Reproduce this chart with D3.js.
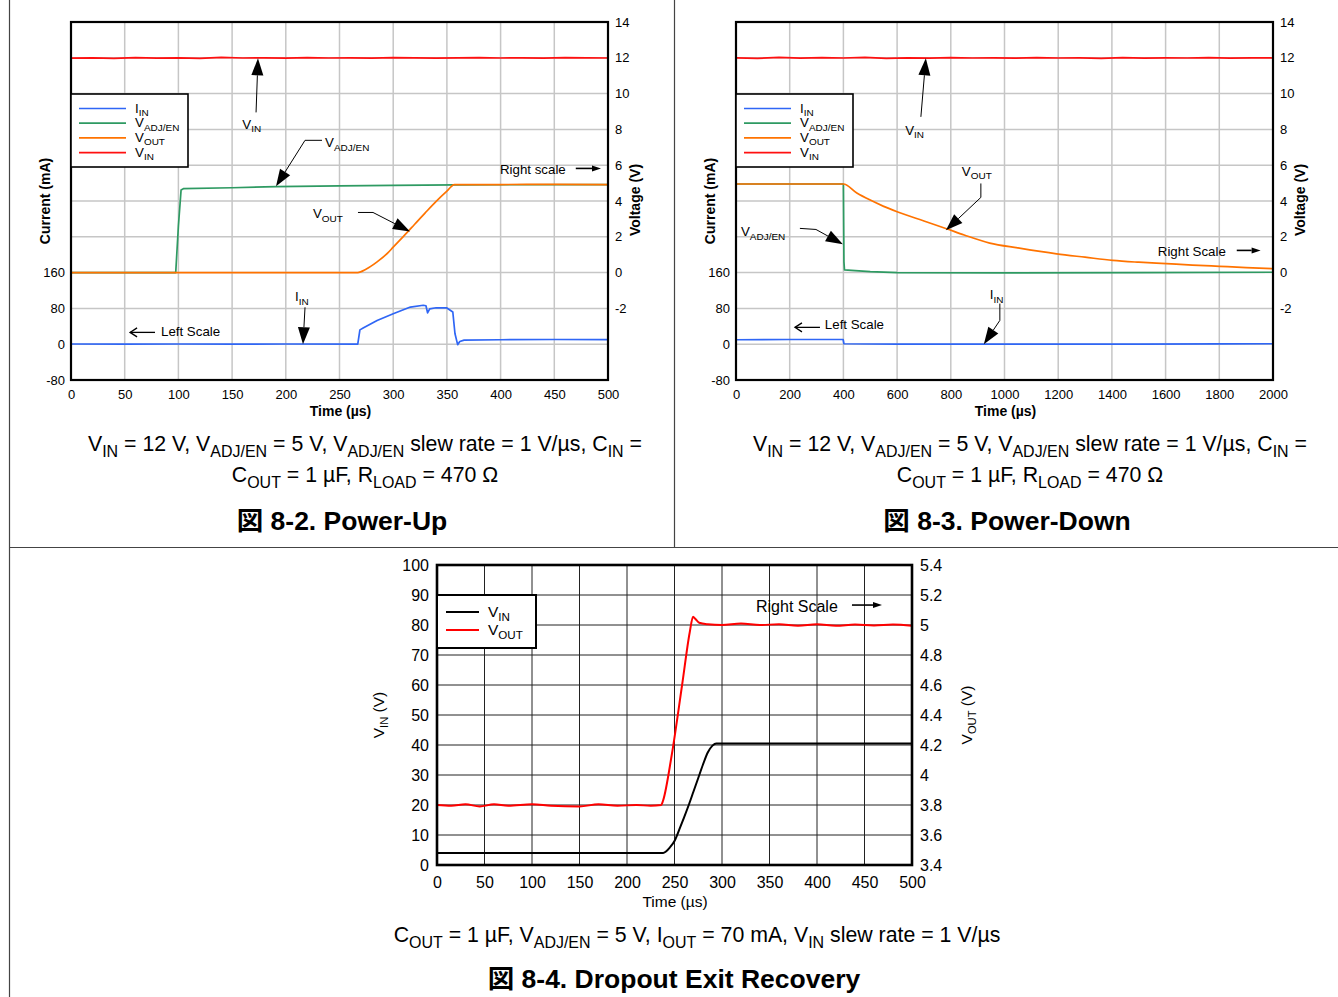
<!DOCTYPE html>
<html><head><meta charset="utf-8">
<script src="https://cdn.jsdelivr.net/npm/d3@7"></script>
<style>
body{margin:0;background:#fff}
svg{display:block}
text{font-family:"Liberation Sans",Arial,"Noto Sans CJK JP",sans-serif}
</style>
</head><body>
<svg id="c" width="1338" height="997"></svg>
<script>
// ---------------- DATA ----------------
// Fig 8-2 Power-Up : time (us), values
const puVin  = [[0,11.98],[20,12.0],[40,11.97],[60,12.01],[80,11.98],[100,12.0],[120,11.97],[140,12.02],[160,11.99],[180,12.0],[200,11.98],[220,12.01],[240,11.99],[260,12.0],[280,11.98],[300,12.01],[320,12.0],[340,11.98],[360,12.0],[380,12.01],[400,11.99],[420,12.0],[440,11.98],[460,12.01],[480,12.0],[500,11.99]];
const puVadj = [[0,0],[97.5,0],[100,2.6],[102.5,4.62],[104.6,4.69],[150,4.74],[191,4.8],[250,4.84],[300,4.87],[358,4.9],[500,4.92]];
const puVout = [[0,0],[267,0],[275,0.2],[285,0.6],[295,1.1],[300,1.42],[310,2.05],[320,2.7],[330,3.35],[340,3.98],[350,4.55],[357,4.92],[400,4.92],[450,4.93],[500,4.92]];
const puIin  = [[0,0.5],[50,0],[100,0.5],[150,0],[200,0.5],[267,0],[269,32],[272,36],[285,53],[300,68],[316,83],[328,87],[330.5,86],[332,70],[334,79],[340,81.5],[350,81],[355.5,72],[357.5,24],[360,-1],[362,6],[366,9],[400,10],[450,10.5],[500,10.4]];

// Fig 8-3 Power-Down
const pdVin  = [[0,12.0],[80,11.97],[160,12.02],[240,11.98],[320,12.01],[400,11.99],[480,12.02],[560,11.97],[640,12.0],[720,11.98],[800,12.01],[880,11.99],[960,12.0],[1040,11.98],[1120,12.01],[1200,11.99],[1280,12.0],[1360,11.97],[1440,12.01],[1520,11.98],[1600,12.0],[1680,11.99],[1760,12.01],[1840,11.98],[1920,12.0],[2000,11.99]];
const pdVadj = [[0,4.95],[398,4.95],[400,4.9],[402,0.6],[404,0.15],[430,0.12],[500,0.05],[600,0.0],[1000,-0.02],[1500,0.0],[2000,0.02]];
const pdVout = [[0,4.95],[400,4.95],[450,4.45],[500,4.05],[550,3.7],[600,3.4],[700,2.88],[784,2.45],[850,2.1],[945,1.65],[1050,1.38],[1194,1.05],[1300,0.86],[1403,0.68],[1500,0.58],[1603,0.5],[1700,0.42],[1801,0.35],[1900,0.28],[2000,0.22]];
const pdIin  = [[0,10],[200,10.5],[399,10.5],[402,1],[600,0],[1000,0],[1500,0.3],[1800,0.8],[2000,1]];

// Fig 8-4 Dropout Exit Recovery
const deVin  = [[0,4],[238,4],[241,4.5],[245,5.8],[250,8],[255,11.8],[260,15.8],[265,20],[270,24.5],[275,29],[280,33.5],[285,37.5],[290,39.8],[294,40.5],[500,40.5]];
const deVout = [[0,3.8],[15,3.795],[30,3.805],[45,3.79],[60,3.805],[75,3.795],[100,3.805],[120,3.795],[150,3.79],[170,3.805],[190,3.795],[210,3.8],[225,3.795],[236,3.8],[238,3.83],[247,4.13],[258,4.6],[266,4.95],[269.5,5.055],[272,5.04],[276,5.015],[285,5.005],[300,5.0],[320,5.01],[340,5.0],[360,5.005],[380,4.995],[400,5.005],[420,4.995],[440,5.003],[460,4.997],[480,5.003],[500,4.995]];

// tick labels
const puXTicks = [0,50,100,150,200,250,300,350,400,450,500];
const pdXTicks = [0,200,400,600,800,1000,1200,1400,1600,1800,2000];
const curTicks = [-80,0,80,160];
const voltTicks = [-2,0,2,4,6,8,10,12,14];
const deXTicks = [0,50,100,150,200,250,300,350,400,450,500];
const deLTicks = [0,10,20,30,40,50,60,70,80,90,100];
const deRTicks = [3.4,3.6,3.8,4,4.2,4.4,4.6,4.8,5,5.2,5.4];

const C = {blue:"#2f66f5", green:"#2e9a62", orange:"#ff7300", red:"#ff1010"};
const plain = d => String(+(+d).toFixed(2));

// ---------------- HELPERS ----------------
const svg = d3.select("#c");
svg.append("rect").attr("width",1338).attr("height",997).attr("fill","#fff");

function rich(g, x, y, str, o) {
  const size = o.size;
  const t = g.append("text").attr("x", x).attr("y", y)
    .attr("font-size", size).attr("text-anchor", o.anchor || "start")
    .attr("font-weight", o.weight || "normal").attr("fill", o.fill || "#000");
  if (o.transform) t.attr("transform", o.transform);
  const parts = [];
  const re = /_\{([^}]*)\}/g; let last = 0, m;
  while ((m = re.exec(str))) {
    if (m.index > last) parts.push([str.slice(last, m.index), false]);
    parts.push([m[1], true]); last = re.lastIndex;
  }
  if (last < str.length) parts.push([str.slice(last), false]);
  let sub = false; const off = size * (o.subOff || 0.28);
  parts.forEach(([s, isSub]) => {
    const ts = t.append("tspan").text(s);
    if (isSub && !sub) ts.attr("dy", off);
    if (!isSub && sub) ts.attr("dy", -off);
    if (isSub) ts.attr("font-size", size * (o.subScale || 0.72));
    sub = isSub;
  });
  return t;
}

function filledArrow(g, pts, len, w) {
  len = len || 17; w = w || 12;
  const n = pts.length, [tx, ty] = pts[n-1], [px, py] = pts[n-2];
  const dx = tx-px, dy = ty-py, L = Math.hypot(dx, dy), ux = dx/L, uy = dy/L;
  const bx = tx-ux*len, by = ty-uy*len;
  const line = pts.slice(0, n-1).concat([[bx, by]]);
  g.append("path").attr("d", d3.line()(line)).attr("fill","none").attr("stroke","#000").attr("stroke-width",1);
  g.append("path").attr("d", d3.line()([[tx,ty],[bx-uy*w/2, by+ux*w/2],[bx+uy*w/2, by-ux*w/2]]) + "Z").attr("fill","#000");
}
function openArrow(g, a, b, sw) {
  const dx = b[0]-a[0], dy = b[1]-a[1], L = Math.hypot(dx,dy), ux = dx/L, uy = dy/L;
  const h = 7, s = 4.5;
  g.append("path").attr("d", d3.line()([a,b])).attr("stroke","#000").attr("stroke-width",sw||1.3).attr("fill","none");
  g.append("path").attr("d", d3.line()([[b[0]-ux*h-uy*s, b[1]-uy*h+ux*s], b, [b[0]-ux*h+uy*s, b[1]-uy*h-ux*s]]))
    .attr("stroke","#000").attr("stroke-width",sw||1.3).attr("fill","none");
}
function slimArrow(g, a, b) {
  const dx = b[0]-a[0], dy = b[1]-a[1], L = Math.hypot(dx,dy), ux = dx/L, uy = dy/L;
  const len = 9, w = 6, bx = b[0]-ux*len, by = b[1]-uy*len;
  g.append("path").attr("d", d3.line()([a,[bx,by]])).attr("stroke","#000").attr("stroke-width",1.6);
  g.append("path").attr("d", d3.line()([b,[bx-uy*w/2,by+ux*w/2],[bx+uy*w/2,by-ux*w/2]])+"Z").attr("fill","#000");
}

function styleAxis(sel, size) {
  sel.select(".domain").remove();
  sel.selectAll("text").attr("font-size", size).attr("fill","#000")
     .attr("font-family",'"Liberation Sans",Arial,sans-serif');
}

// ---------------- FRAME ----------------
const frame = svg.append("g").attr("stroke","#444").attr("stroke-width",1.2);
frame.append("line").attr("x1",9.5).attr("x2",9.5).attr("y1",0).attr("y2",997);
frame.append("line").attr("x1",674.5).attr("x2",674.5).attr("y1",0).attr("y2",547);
frame.append("line").attr("x1",9).attr("x2",1338).attr("y1",547.5).attr("y2",547.5);

// ---------------- SCOPE PANELS (8-2, 8-3) ----------------
function scopePanel(cfg) {
  const g = svg.append("g");
  const L = cfg.left, R = cfg.right, T = 22, B = 380;
  const x = d3.scaleLinear().domain(cfg.xDomain).range([L, R]);
  const yR = d3.scaleLinear().domain([-6, 14]).range([B, T]);
  const yL = d3.scaleLinear().domain([-80, 720]).range([B, T]);
  // grid
  const grid = g.append("g").attr("stroke","#c6c6c6").attr("stroke-width",1.5);
  cfg.xTicks.slice(1,-1).forEach(t => grid.append("line").attr("x1",x(t)).attr("x2",x(t)).attr("y1",T).attr("y2",B));
  d3.range(-4, 13, 2).forEach(v => grid.append("line").attr("x1",L).attr("x2",R).attr("y1",yR(v)).attr("y2",yR(v)));
  // series
  cfg.series.forEach(s => {
    const ys = s.axis === "L" ? yL : yR;
    const line = d3.line().x(d => x(d[0])).y(d => ys(d[1])).curve(s.smooth ? d3.curveMonotoneX : d3.curveLinear);
    g.append("path").attr("d", line(s.data))
      .attr("fill","none").attr("stroke", s.color).attr("stroke-width",1.7).attr("stroke-linejoin","round");
  });
  // border
  g.append("rect").attr("x",L).attr("y",T).attr("width",R-L).attr("height",B-T)
    .attr("fill","none").attr("stroke","#000").attr("stroke-width",2.2);
  // legend
  const lx = L, ly = 94, lw = 117, lh = 73;
  g.append("rect").attr("x",lx).attr("y",ly).attr("width",lw).attr("height",lh)
    .attr("fill","#fff").attr("stroke","#000").attr("stroke-width",1.6);
  cfg.legend.forEach((e, i) => {
    const yy = ly + 14.5 + i * 14.7;
    g.append("line").attr("x1",lx+8).attr("x2",lx+55).attr("y1",yy).attr("y2",yy).attr("stroke",e[1]).attr("stroke-width",1.7);
    rich(g, lx+64, yy+4, e[0], {size:13.3, subScale:0.75, subOff:0.25});
  });
  // axes
  const ax1 = g.append("g").attr("transform",`translate(${L},0)`)
    .call(d3.axisLeft(yL).tickValues(curTicks).tickSize(0).tickPadding(6).tickFormat(plain));
  styleAxis(ax1, 13);
  const ax2 = g.append("g").attr("transform",`translate(${R},0)`)
    .call(d3.axisRight(yR).tickValues(voltTicks).tickSize(0).tickPadding(7).tickFormat(plain));
  styleAxis(ax2, 13);
  const ax3 = g.append("g").attr("transform",`translate(0,${B})`)
    .call(d3.axisBottom(x).tickValues(cfg.xTicks).tickSize(0).tickPadding(10).tickFormat(plain));
  styleAxis(ax3, 13);
  g.append("text").attr("transform",`translate(${L-21},201) rotate(-90)`).attr("text-anchor","middle")
    .attr("font-size",14).attr("font-weight","bold").text("Current (mA)");
  g.append("text").attr("transform",`translate(${R+32},200) rotate(-90)`).attr("text-anchor","middle")
    .attr("font-size",14).attr("font-weight","bold").text("Voltage (V)");
  g.append("text").attr("x",(L+R)/2 + 1).attr("y",416).attr("text-anchor","middle")
    .attr("font-size",14).attr("font-weight","bold").text("Time (\u00b5s)");
  // annotations (data coords on right-axis scale)
  const P = (t, v) => [x(t), yR(v)];
  cfg.notes(g, P);
  // captions
  rich(g, cfg.capX, 451, "V_{IN} = 12 V, V_{ADJ/EN} = 5 V, V_{ADJ/EN} slew rate = 1 V/\u00b5s, C_{IN} =", {size:21.3, anchor:"middle", subScale:0.75, subOff:0.3});
  rich(g, cfg.capX, 482, "C_{OUT} = 1 \u00b5F, R_{LOAD} = 470 \u03a9", {size:21.3, anchor:"middle", subScale:0.75, subOff:0.3});
  g.append("text").attr("x",cfg.titleX).attr("y",530).attr("text-anchor","middle")
    .attr("font-size",26.5).attr("font-weight","bold").text(cfg.title);
}

const noteFont = {size:13.3, subScale:0.75, subOff:0.25};

scopePanel({
  left:71, right:608, xDomain:[0,500], xTicks:puXTicks,
  series:[
    {data:puVadj, color:C.green, axis:"R"},
    {data:puVout, color:C.orange, axis:"R", smooth:true},
    {data:puIin, color:C.blue, axis:"L"},
    {data:puVin, color:C.red, axis:"R"}
  ],
  legend:[["I_{IN}",C.blue],["V_{ADJ/EN}",C.green],["V_{OUT}",C.orange],["V_{IN}",C.red]],
  capX:365, titleX:342, title:"\u56f3 8-2. Power-Up",
  notes:(g, P) => {
    const o = noteFont;
    rich(g, ...P(159.5, 8.05), "V_{IN}", o);
    filledArrow(g, [P(172.3, 8.95), P(174.1, 11.97)]);
    rich(g, ...P(236.5, 7.0), "V_{ADJ/EN}", o);
    filledArrow(g, [P(233.7, 7.39), P(217.9, 7.39), P(190.9, 4.82)]);
    rich(g, ...P(225.3, 3.03), "V_{OUT}", o);
    filledArrow(g, [P(267.2, 3.36), P(281.2, 3.36), P(315.6, 2.30)]);
    rich(g, ...P(208.6, -1.6), "I_{IN}", o);
    filledArrow(g, [P(217.9, -1.94), P(216.0, -4.0)]);
    g.append("text").attr("x",P(399.4,5.5)[0]).attr("y",P(399.4,5.5)[1]).attr("font-size",13.3).text("Right scale");
    slimArrow(g, P(470, 5.82), P(493.5, 5.82));
    g.append("text").attr("x",P(83.8,-3.56)[0]).attr("y",P(83.8,-3.56)[1]).attr("font-size",13.3).text("Left Scale");
    openArrow(g, P(78.2,-3.34), P(55,-3.34));
  }
});

scopePanel({
  left:736, right:1273, xDomain:[0,2000], xTicks:pdXTicks,
  series:[
    {data:pdVadj, color:C.green, axis:"R"},
    {data:pdVout, color:C.orange, axis:"R", smooth:true},
    {data:pdIin, color:C.blue, axis:"L"},
    {data:pdVin, color:C.red, axis:"R"}
  ],
  legend:[["I_{IN}",C.blue],["V_{ADJ/EN}",C.green],["V_{OUT}",C.orange],["V_{IN}",C.red]],
  capX:1030, titleX:1007, title:"\u56f3 8-3. Power-Down",
  notes:(g, P) => {
    const o = noteFont;
    rich(g, ...P(630, 7.7), "V_{IN}", o);
    filledArrow(g, [P(688.6, 8.7), P(707, 11.97)]);
    rich(g, ...P(841, 5.4), "V_{OUT}", o);
    filledArrow(g, [P(912, 4.98), P(912, 4.2), P(781.7, 2.36)]);
    rich(g, ...P(18.6, 2.02), "V_{ADJ/EN}", o);
    filledArrow(g, [P(238, 2.47), P(297.8, 2.41), P(398, 1.58)]);
    rich(g, ...P(945, -1.5), "I_{IN}", o);
    filledArrow(g, [P(982.7, -1.73), P(982.7, -2.67), P(923, -4.0)]);
    g.append("text").attr("x",P(1571,0.9)[0]).attr("y",P(1571,0.9)[1]).attr("font-size",13.3).text("Right Scale");
    slimArrow(g, P(1865, 1.24), P(1954, 1.24));
    g.append("text").attr("x",P(331,-3.17)[0]).attr("y",P(331,-3.17)[1]).attr("font-size",13.3).text("Left Scale");
    openArrow(g, P(312.7,-3.06), P(219.6,-3.06));
  }
});

// ---------------- PANEL 8-4 ----------------
(function(){
  const g = svg.append("g");
  const L = 437, R = 912, T = 565, B = 865;
  const x = d3.scaleLinear().domain([0,500]).range([L,R]);
  const yL = d3.scaleLinear().domain([0,100]).range([B,T]);
  const yR = d3.scaleLinear().domain([3.4,5.4]).range([B,T]);
  const grid = g.append("g").attr("stroke","#222").attr("stroke-width",1);
  deXTicks.slice(1,-1).forEach(t => grid.append("line").attr("x1",x(t)).attr("x2",x(t)).attr("y1",T).attr("y2",B));
  deLTicks.slice(1,-1).forEach(v => grid.append("line").attr("x1",L).attr("x2",R).attr("y1",yL(v)).attr("y2",yL(v)));
  g.append("path").attr("d", d3.line().x(d=>x(d[0])).y(d=>yL(d[1])).curve(d3.curveMonotoneX)(deVin))
    .attr("fill","none").attr("stroke","#000").attr("stroke-width",2);
  g.append("path").attr("d", d3.line().x(d=>x(d[0])).y(d=>yR(d[1])).curve(d3.curveMonotoneX)(deVout))
    .attr("fill","none").attr("stroke","#ff0000").attr("stroke-width",2);
  g.append("rect").attr("x",L).attr("y",T).attr("width",R-L).attr("height",B-T)
    .attr("fill","none").attr("stroke","#000").attr("stroke-width",2.6);
  // legend
  g.append("rect").attr("x",L).attr("y",595).attr("width",99).attr("height",53)
    .attr("fill","#fff").attr("stroke","#000").attr("stroke-width",2);
  [["V_{IN}","#000"],["V_{OUT}","#ff0000"]].forEach((e,i) => {
    const yy = 612 + i*18;
    g.append("line").attr("x1",L+9).attr("x2",L+42).attr("y1",yy).attr("y2",yy).attr("stroke",e[1]).attr("stroke-width",2);
    rich(g, L+51, yy+5, e[0], {size:15.5, subScale:0.75, subOff:0.28});
  });
  const a1 = g.append("g").attr("transform",`translate(${L},0)`)
    .call(d3.axisLeft(yL).tickValues(deLTicks).tickSize(0).tickPadding(8).tickFormat(plain));
  styleAxis(a1, 16);
  const a2 = g.append("g").attr("transform",`translate(${R},0)`)
    .call(d3.axisRight(yR).tickValues(deRTicks).tickSize(0).tickPadding(8).tickFormat(plain));
  styleAxis(a2, 16);
  const a3 = g.append("g").attr("transform",`translate(0,${B})`)
    .call(d3.axisBottom(x).tickValues(deXTicks).tickSize(0).tickPadding(12).tickFormat(plain));
  styleAxis(a3, 16);
  rich(g, 0, 0, "V_{IN} (V)", {size:15.5, anchor:"middle", transform:"translate(384,715) rotate(-90)"});
  rich(g, 0, 0, "V_{OUT} (V)", {size:15.5, anchor:"middle", transform:"translate(972,715) rotate(-90)"});
  g.append("text").attr("x",675).attr("y",907).attr("text-anchor","middle").attr("font-size",15.5).text("Time (\u00b5s)");
  const tp = [x(335.8), yR(5.087)];
  g.append("text").attr("x",tp[0]).attr("y",tp[1]).attr("font-size",16).text("Right Scale");
  slimArrow(g, [x(436.8), yR(5.133)], [x(468.4), yR(5.133)]);
  rich(g, 697, 942, "C_{OUT} = 1 \u00b5F, V_{ADJ/EN} = 5 V, I_{OUT} = 70 mA, V_{IN} slew rate = 1 V/\u00b5s", {size:21.3, anchor:"middle", subScale:0.75, subOff:0.3});
  g.append("text").attr("x",674).attr("y",988).attr("text-anchor","middle")
    .attr("font-size",26.5).attr("font-weight","bold").text("\u56f3 8-4. Dropout Exit Recovery");
})();
</script>
</body></html>
